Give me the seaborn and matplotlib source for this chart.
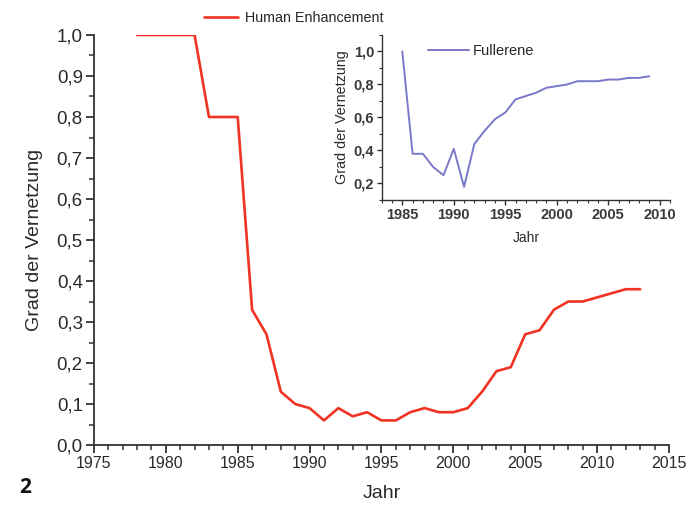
import matplotlib
matplotlib.use("Agg")
import matplotlib.pyplot as plt
from matplotlib.ticker import MultipleLocator, FuncFormatter
import seaborn as sns
import pandas as pd

sns.set_style("ticks")
plt.rcParams['font.family'] = ['Liberation Sans', 'DejaVu Sans']

he_years = [1978, 1982, 1983, 1985, 1986, 1987, 1988, 1989, 1990, 1991, 1992, 1993, 1994,
            1995, 1996, 1997, 1998, 1999, 2000, 2001, 2002, 2003, 2004, 2005, 2006, 2007,
            2008, 2009, 2010, 2011, 2012, 2013]
he_values = [1.0, 1.0, 0.8, 0.8, 0.33, 0.27, 0.13, 0.10, 0.09, 0.06, 0.09, 0.07, 0.08,
             0.06, 0.06, 0.08, 0.09, 0.08, 0.08, 0.09, 0.13, 0.18, 0.19, 0.27, 0.28, 0.33,
             0.35, 0.35, 0.36, 0.37, 0.38, 0.38]

fu_years = [1985, 1986, 1987, 1988, 1989, 1990, 1991, 1992, 1993, 1994, 1995, 1996, 1997,
            1998, 1999, 2000, 2001, 2002, 2003, 2004, 2005, 2006, 2007, 2008, 2009]
fu_values = [1.0, 0.38, 0.38, 0.30, 0.25, 0.41, 0.18, 0.44, 0.52, 0.59, 0.63, 0.71, 0.73,
             0.75, 0.78, 0.79, 0.80, 0.82, 0.82, 0.82, 0.83, 0.83, 0.84, 0.84, 0.85]

main_xticks = [1975, 1980, 1985, 1990, 1995, 2000, 2005, 2010, 2015]
inset_xticks = [1985, 1990, 1995, 2000, 2005, 2010]

red = "#f03322"
blue = "#7a78c8"
spine_col = "#333333"
txt = "#2a2a2a"

df_he = pd.DataFrame({"Jahr": he_years, "Grad": he_values, "Serie": "Human Enhancement"})
df_fu = pd.DataFrame({"Jahr": fu_years, "Grad": fu_values, "Serie": "Fullerene"})

fig = plt.figure(figsize=(6.94, 5.2), dpi=100)
ax = fig.add_axes([0.1354, 0.1442, 0.8285, 0.7885])

sns.lineplot(data=df_he, x="Jahr", y="Grad", hue="Serie", palette=[red], linewidth=1.9, ax=ax)
ax.set_xlim(1975, 2015)
ax.set_ylim(0, 1.0)
ax.set_xticks(main_xticks)
ax.xaxis.set_minor_locator(MultipleLocator(1))
ax.yaxis.set_major_locator(MultipleLocator(0.1))
ax.yaxis.set_minor_locator(MultipleLocator(0.05))
comma = FuncFormatter(lambda v, p: f"{v:.1f}".replace(".", ","))
ax.yaxis.set_major_formatter(comma)
ax.tick_params(axis="both", which="major", direction="out", length=6, width=1.3,
               color=spine_col, labelcolor=txt, pad=2)
ax.tick_params(axis="x", which="major", labelsize=11.5)
ax.tick_params(axis="y", which="major", labelsize=13.5)
ax.tick_params(axis="both", which="minor", direction="out", length=3.5, width=1.1, color=spine_col)
sns.despine(ax=ax)
for s in ["left", "bottom"]:
    ax.spines[s].set_linewidth(1.3)
    ax.spines[s].set_color(spine_col)
ax.set_xlabel("Jahr", fontsize=14, color=txt, labelpad=10)
ax.set_ylabel("Grad der Vernetzung", fontsize=14, color=txt, labelpad=10)
ax.legend(loc="center left", bbox_to_anchor=(0.285, 0.966), bbox_transform=fig.transFigure,
          frameon=False, fontsize=10.3, handlelength=2.4, handletextpad=0.5, borderaxespad=0)

# inset
axi = fig.add_axes([0.55, 0.6154, 0.4154, 0.3173])
axi.set_facecolor("white")
sns.lineplot(data=df_fu, x="Jahr", y="Grad", hue="Serie", palette=[blue], linewidth=1.4, ax=axi)
axi.set_xlim(1983, 2011)
axi.set_ylim(0.1, 1.1)
axi.set_xticks(inset_xticks)
axi.xaxis.set_minor_locator(MultipleLocator(1))
axi.set_yticks([0.2, 0.4, 0.6, 0.8, 1.0])
axi.yaxis.set_minor_locator(MultipleLocator(0.1))
axi.yaxis.set_major_formatter(comma)
axi.tick_params(axis="both", which="major", direction="out", length=3.5, width=1.0,
                color=spine_col, labelsize=10.5, labelcolor="#3a3a3a", pad=2)
axi.tick_params(axis="both", which="minor", direction="out", length=2, width=0.8, color=spine_col)
for lab in axi.get_xticklabels() + axi.get_yticklabels():
    lab.set_fontweight("bold")
sns.despine(ax=axi)
for s in ["left", "bottom"]:
    axi.spines[s].set_linewidth(1.0)
    axi.spines[s].set_color(spine_col)
axi.set_xlabel("Jahr", fontsize=10, color=txt, labelpad=7)
axi.set_ylabel("Grad der Vernetzung", fontsize=10.3, color=txt, labelpad=3)
axi.legend(loc="upper left", bbox_to_anchor=(0.14, 0.98), frameon=False, fontsize=10.5,
           handlelength=2.8, handletextpad=0.3, borderaxespad=0)

fig.text(0.028, 0.052, "2", fontsize=15, fontweight="bold", family=["Open Sans", "DejaVu Sans"],
         color="#111111")

fig.savefig("out.png", dpi=100)
